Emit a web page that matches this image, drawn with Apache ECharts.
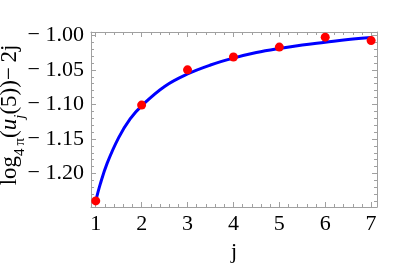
<!DOCTYPE html>
<html><head><meta charset="utf-8">
<script src="https://cdn.jsdelivr.net/npm/echarts@6/dist/echarts.min.js"></script>
<style>html,body{margin:0;padding:0;background:#fff}#c{width:409px;height:268px}</style>
</head><body><div id="c"></div>
<script>
// data points
var pointJ = [1, 2, 3, 4, 5, 6, 7];
var pointY = [-1.2397, -1.101, -1.050, -1.0314, -1.017, -1.0027, -1.0076];
// fitted curve
var curveJ = [1, 1.1, 1.25, 1.5, 1.75, 2, 2.5, 3, 3.5, 4, 4.5, 5, 5.5, 6, 6.5, 7];
var curveY = [-1.240, -1.215, -1.185, -1.148, -1.121, -1.102, -1.074, -1.056, -1.043, -1.033, -1.025, -1.019, -1.014, -1.010, -1.006, -1.003];
// ticks
var xMajor = [1, 2, 3, 4, 5, 6, 7];
var yMajor = [-1.20, -1.15, -1.10, -1.05, -1.00];
var xMinor = [];
for (var i = 1; i < 7; i++) for (var k = 1; k < 5; k++) xMinor.push(+(i + k * 0.2).toFixed(2));
var yMinor = [];
for (var v = -124; v <= -100; v++) if (v % 5 !== 0) yMinor.push(v / 100);

var XMIN = 0.897, XMAX = 7.128, YMIN = -1.2485, YMAX = -0.9952;
var FRAME = '#a0a0a0';
var SERIF = 'Liberation Serif';

function xa(pos, major, showLine, labels) {
  return {
    type: 'value', min: XMIN, max: XMAX, position: pos, gridIndex: 0,
    axisLine: {show: showLine, onZero: false, lineStyle: {color: FRAME, width: 1}},
    axisTick: {show: true, inside: true, length: major ? 5 : 3, customValues: major ? xMajor : xMinor, lineStyle: {color: FRAME}},
    axisLabel: labels ? {show: true, customValues: xMajor, color: '#000', fontFamily: SERIF, fontSize: 22, margin: 6} : {show: false},
    splitLine: {show: false}
  };
}
function ya(pos, major, showLine, labels) {
  return {
    type: 'value', min: YMIN, max: YMAX, position: pos, gridIndex: 0,
    axisLine: {show: showLine, onZero: false, lineStyle: {color: FRAME, width: 1}},
    axisTick: {show: true, inside: true, length: major ? 5 : 3, customValues: major ? yMajor : yMinor, lineStyle: {color: FRAME}},
    axisLabel: labels ? {show: true, customValues: yMajor, color: '#000', fontFamily: SERIF, fontSize: 22, margin: 7,
      formatter: function (v) { return '\u2212 ' + Math.abs(v).toFixed(2); }} : {show: false},
    splitLine: {show: false}
  };
}

var xAxes = [xa('bottom', true, true, true), xa('bottom', false, false, false), xa('top', true, true, false), xa('top', false, false, false)];
xAxes[0].name = 'j';
xAxes[0].nameLocation = 'middle';
xAxes[0].nameGap = 34;
xAxes[0].nameTextStyle = {color: '#000', fontFamily: SERIF, fontSize: 22};
var yAxes = [ya('left', true, true, true), ya('left', false, false, false), ya('right', true, true, false), ya('right', false, false, false)];

var chart = echarts.init(document.getElementById('c'), null, {renderer: 'canvas'});
var main = {fontFamily: SERIF, fontSize: 23, color: '#000', padding: [0, 0, 6, 0], verticalAlign: 'bottom'};
var mainI = {fontFamily: SERIF, fontSize: 23, color: '#000', fontStyle: 'italic', padding: [0, 0, 6, 0], verticalAlign: 'bottom'};
var sub = {fontFamily: SERIF, fontSize: 15, color: '#000', verticalAlign: 'bottom'};
var subI = {fontFamily: SERIF, fontSize: 15, color: '#000', fontStyle: 'italic', verticalAlign: 'bottom'};
chart.setOption({
  animation: false,
  backgroundColor: '#fff',
  grid: {left: 91, top: 32, right: 32, bottom: 59, containLabel: false},
  xAxis: xAxes,
  yAxis: yAxes,
  graphic: [{
    type: 'text', x: 13, y: 115, rotation: Math.PI / 2,
    style: {
      text: '{a|log}{s|4\u2009\u03c0}{a|(}{i|u}{si|j}{a|(5))\u2212\u20092j}',
      align: 'center', verticalAlign: 'middle',
      rich: {a: main, i: mainI, s: sub, si: subI}
    }
  }],
  series: [{
    type: 'line', xAxisIndex: 0, yAxisIndex: 0, smooth: 0.4, symbol: 'none',
    lineStyle: {color: '#0000ff', width: 3}, z: 2,
    data: curveJ.map(function (j, i) { return [j, curveY[i]]; })
  }, {
    type: 'scatter', xAxisIndex: 0, yAxisIndex: 0, symbolSize: 9,
    itemStyle: {color: '#ff0000', opacity: 1}, z: 3,
    data: pointJ.map(function (j, i) { return [j, pointY[i]]; })
  }]
});
</script></body></html>
